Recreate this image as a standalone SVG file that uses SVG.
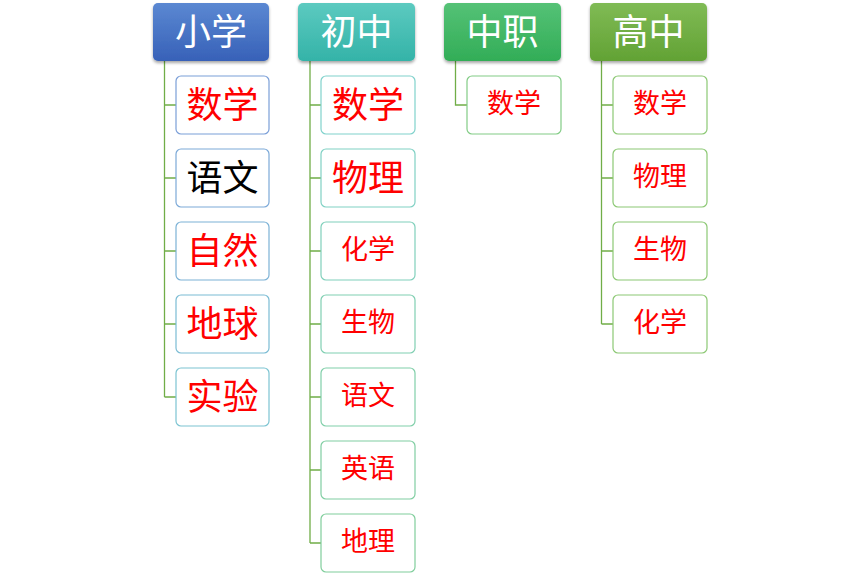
<svg xmlns="http://www.w3.org/2000/svg" width="854" height="573" viewBox="0 0 854 573">
<defs>
<linearGradient id="gBlue" x1="0" y1="0" x2="0" y2="1"><stop offset="0" stop-color="#5b88d2"/><stop offset="1" stop-color="#3761b8"/></linearGradient>
<linearGradient id="gTeal" x1="0" y1="0" x2="0" y2="1"><stop offset="0" stop-color="#5ccac0"/><stop offset="1" stop-color="#34b3a8"/></linearGradient>
<linearGradient id="gGreen" x1="0" y1="0" x2="0" y2="1"><stop offset="0" stop-color="#55c276"/><stop offset="1" stop-color="#32ad57"/></linearGradient>
<linearGradient id="gOlive" x1="0" y1="0" x2="0" y2="1"><stop offset="0" stop-color="#80bb55"/><stop offset="1" stop-color="#62a234"/></linearGradient>
<filter id="sh" x="-10%" y="-10%" width="120%" height="130%"><feDropShadow dx="0" dy="2" stdDeviation="1.5" flood-color="#000" flood-opacity="0.35"/></filter>
</defs>
<style>
text{font-family:"Microsoft YaHei","Noto Sans CJK SC",sans-serif;text-anchor:middle;dominant-baseline:central}
.h{fill:#fff;font-size:36px}
.c{fill:#fff;stroke-width:1.2}
.big{font-size:36px;fill:#ff0000}
.sm{font-size:27px;fill:#ff0000}
.blk{fill:#000}
.ln{fill:none;stroke:#70ad47;stroke-width:1.3}
</style>
<rect width="854" height="573" fill="#fff"/>
<g id="connectors">
<path class="ln" d="M164.5 61V397M164.5 105H176M164.5 178H176M164.5 251H176M164.5 324H176M164.5 397H176"/>
<path class="ln" d="M310 61V543M310 105H321M310 178H321M310 251H321M310 324H321M310 397H321M310 470H321M310 543H321"/>
<path class="ln" d="M455.5 61V105H467"/>
<path class="ln" d="M601.5 61V324M601.5 105H613M601.5 178H613M601.5 251H613M601.5 324H613"/>
</g>
<g id="h-xiaoxue"><rect x="153" y="3" width="116" height="58" rx="5" fill="url(#gBlue)" filter="url(#sh)"/><text class="h" x="211" y="29">小学</text></g>
<g id="h-chuzhong"><rect x="298" y="3" width="117" height="58" rx="5" fill="url(#gTeal)" filter="url(#sh)"/><text class="h" x="356.5" y="29">初中</text></g>
<g id="h-zhongzhi"><rect x="444" y="3" width="117" height="58" rx="5" fill="url(#gGreen)" filter="url(#sh)"/><text class="h" x="502.5" y="29">中职</text></g>
<g id="h-gaozhong"><rect x="590" y="3" width="117" height="58" rx="5" fill="url(#gOlive)" filter="url(#sh)"/><text class="h" x="648.5" y="29">高中</text></g>

<g id="x1"><rect class="c" x="176" y="76" width="93" height="58" rx="5" stroke="#7b9fd8"/><text class="big" x="222.5" y="102">数学</text></g>
<g id="x2"><rect class="c" x="176" y="149" width="93" height="58" rx="5" stroke="#7ca9d8"/><text class="big blk" x="222.5" y="175">语文</text></g>
<g id="x3"><rect class="c" x="176" y="222" width="93" height="58" rx="5" stroke="#7cb2d6"/><text class="big" x="222.5" y="248">自然</text></g>
<g id="x4"><rect class="c" x="176" y="295" width="93" height="58" rx="5" stroke="#7bbcd4"/><text class="big" x="222.5" y="321">地球</text></g>
<g id="x5"><rect class="c" x="176" y="368" width="93" height="58" rx="5" stroke="#7cc4d2"/><text class="big" x="222.5" y="394">实验</text></g>

<g id="c1"><rect class="c" x="321" y="76" width="94" height="58" rx="5" stroke="#80d2cc"/><text class="big" x="368" y="102">数学</text></g>
<g id="c2"><rect class="c" x="321" y="149" width="94" height="58" rx="5" stroke="#80d1c4"/><text class="big" x="368" y="175">物理</text></g>
<g id="c3"><rect class="c" x="321" y="222" width="94" height="58" rx="5" stroke="#80d0bb"/><text class="sm" x="368" y="247">化学</text></g>
<g id="c4"><rect class="c" x="321" y="295" width="94" height="58" rx="5" stroke="#80cfb2"/><text class="sm" x="368" y="320">生物</text></g>
<g id="c5"><rect class="c" x="321" y="368" width="94" height="58" rx="5" stroke="#80cfa9"/><text class="sm" x="368" y="393">语文</text></g>
<g id="c6"><rect class="c" x="321" y="441" width="94" height="58" rx="5" stroke="#80cea2"/><text class="sm" x="368" y="466">英语</text></g>
<g id="c7"><rect class="c" x="321" y="514" width="94" height="58" rx="5" stroke="#80ce9c"/><text class="sm" x="368" y="539">地理</text></g>

<g id="z1"><rect class="c" x="467" y="76" width="94" height="58" rx="5" stroke="#82cc85"/><text class="sm" x="514" y="101">数学</text></g>

<g id="g1"><rect class="c" x="613" y="76" width="94" height="58" rx="5" stroke="#8cc874"/><text class="sm" x="660" y="101">数学</text></g>
<g id="g2"><rect class="c" x="613" y="149" width="94" height="58" rx="5" stroke="#8cc874"/><text class="sm" x="660" y="174">物理</text></g>
<g id="g3"><rect class="c" x="613" y="222" width="94" height="58" rx="5" stroke="#8cc874"/><text class="sm" x="660" y="247">生物</text></g>
<g id="g4"><rect class="c" x="613" y="295" width="94" height="58" rx="5" stroke="#8cc874"/><text class="sm" x="660" y="320">化学</text></g>
</svg>
